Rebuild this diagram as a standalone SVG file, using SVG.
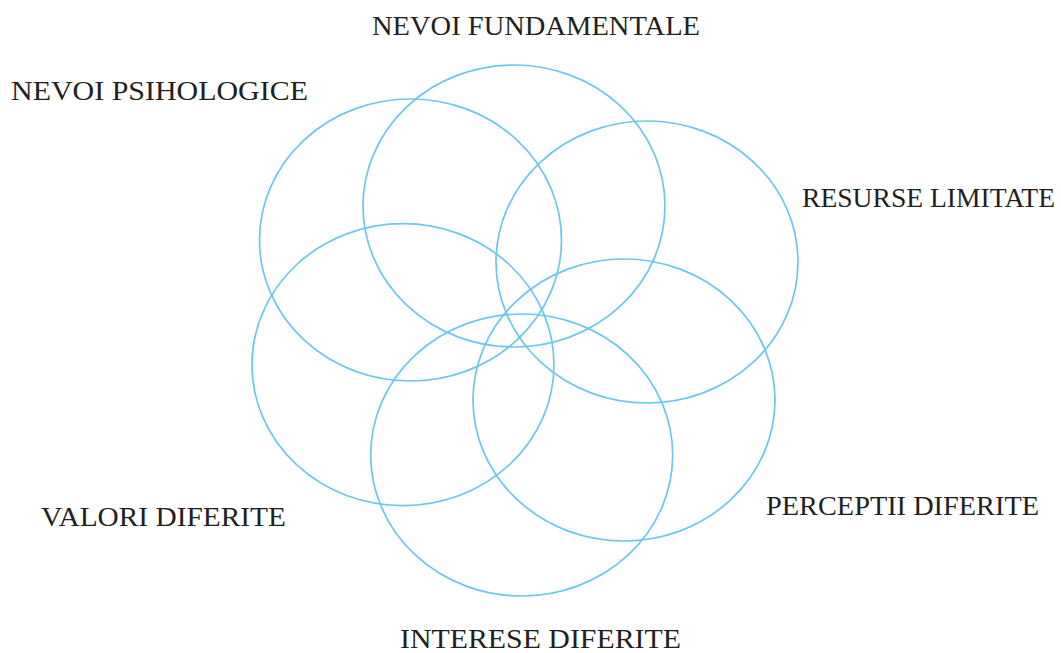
<svg xmlns="http://www.w3.org/2000/svg" width="1061" height="653" viewBox="0 0 1061 653">
<style>
.c{fill:none;stroke:#6CC6EE;stroke-width:1.7}
.t{font-family:"Liberation Serif","Times New Roman",serif;font-size:27px;fill:#231F20}
</style>
<rect width="1061" height="653" fill="#fff"/>
<g id="fundamentale"><ellipse class="c" cx="514" cy="206" rx="151" ry="141"/><text class="t" x="372" y="35" textLength="328" lengthAdjust="spacingAndGlyphs">NEVOI FUNDAMENTALE</text></g>
<g id="psihologice"><ellipse class="c" cx="410.5" cy="240" rx="151" ry="141"/><text class="t" x="11" y="100" textLength="297" lengthAdjust="spacingAndGlyphs">NEVOI PSIHOLOGICE</text></g>
<g id="resurse"><ellipse class="c" cx="647" cy="262" rx="151" ry="141"/><text class="t" x="802" y="207" textLength="253" lengthAdjust="spacingAndGlyphs">RESURSE LIMITATE</text></g>
<g id="perceptii"><ellipse class="c" cx="624" cy="400" rx="151" ry="141"/><text class="t" x="766" y="515" textLength="273" lengthAdjust="spacingAndGlyphs">PERCEPTII DIFERITE</text></g>
<g id="interese"><ellipse class="c" cx="521.7" cy="455" rx="151" ry="141"/><text class="t" x="400" y="648" textLength="281" lengthAdjust="spacingAndGlyphs">INTERESE DIFERITE</text></g>
<g id="valori"><ellipse class="c" cx="403" cy="364.7" rx="151" ry="141"/><text class="t" x="41" y="526" textLength="245" lengthAdjust="spacingAndGlyphs">VALORI DIFERITE</text></g>
<g id="connectors"/>
</svg>
